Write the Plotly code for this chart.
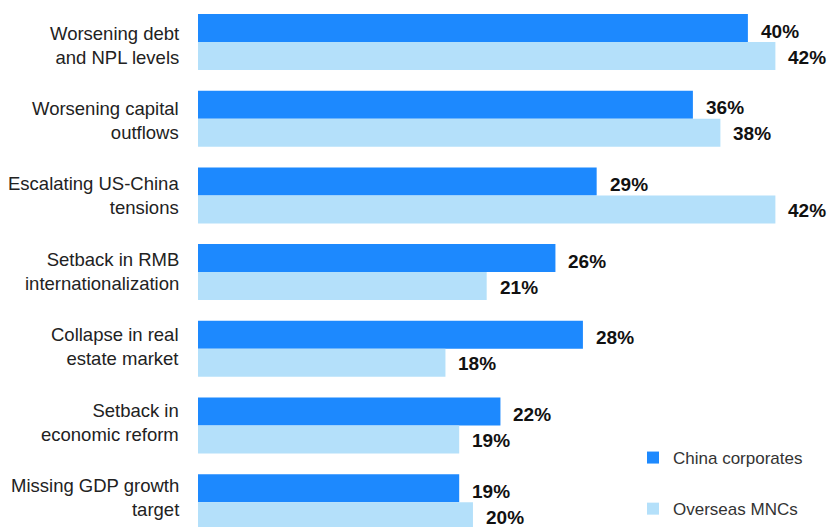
import plotly.graph_objects as go

categories = [
    "Worsening debt<br>and NPL levels",
    "Worsening capital<br>outflows",
    "Escalating US-China<br>tensions",
    "Setback in RMB<br>internationalization",
    "Collapse in real<br>estate market",
    "Setback in<br>economic reform",
    "Missing GDP growth<br>target",
]
china_corporates = [40, 36, 29, 26, 28, 22, 19]
overseas_mncs = [42, 38, 42, 21, 18, 19, 20]
series_names = ["China corporates", "Overseas MNCs"]

DARK = "#1D89FE"
LIGHT = "#B4E0FA"
FONT = "Liberation Sans Narrow, Arial Narrow, Liberation Sans, sans-serif"

fig = go.Figure()
for name, vals, col in [
    (series_names[0], china_corporates, DARK),
    (series_names[1], overseas_mncs, LIGHT),
]:
    fig.add_trace(go.Bar(
        x=vals, y=categories, orientation="h", name=name,
        marker=dict(color=col, line=dict(width=0)),
        legendgroup=name,
    ))

# value labels to the right of each bar
for vals, shift in [(china_corporates, 11), (overseas_mncs, -15)]:
    for cat, v in zip(categories, vals):
        fig.add_annotation(
            x=v, y=cat, xref="x", yref="y", text=f"<b>{v}%</b>",
            showarrow=False, xanchor="left", yanchor="middle",
            xshift=11, yshift=shift,
            font=dict(family=FONT, size=19, color="#111111"),
        )

# category labels, right-aligned left of the bars; spaced a little tighter
# than the bar groups so the last one stays inside the frame
for i, cat in enumerate(categories):
    fig.add_annotation(
        x=0, y=cat, xref="paper", yref="y", text=cat,
        showarrow=False, xanchor="right", yanchor="middle", align="right",
        xshift=-17, yshift=-3 + 1.3 * i,
        font=dict(family=FONT, size=18.5, color="#222222"),
    )

fig.update_layout(
    width=829, height=527,
    margin=dict(l=198, r=0, t=0, b=0, autoexpand=False),
    paper_bgcolor="white", plot_bgcolor="white",
    barmode="group", bargap=0.27, bargroupgap=0,
    font=dict(family=FONT, size=18.5, color="#222222"),
    xaxis=dict(range=[0, 45.9], visible=False),
    yaxis=dict(
        type="category", range=[6.323, -0.5476],
        showgrid=False, zeroline=False, showline=False,
        ticks="", showticklabels=False,
    ),
    legend=dict(
        xref="paper", yref="paper",
        x=(633 - 198) / 631, y=1 - 440 / 527, xanchor="left", yanchor="top",
        tracegroupgap=26, traceorder="grouped",
        font=dict(family=FONT, size=17, color="#333333"),
        bgcolor="rgba(0,0,0,0)",
    ),
    showlegend=True,
)

fig.write_html("out.html")
